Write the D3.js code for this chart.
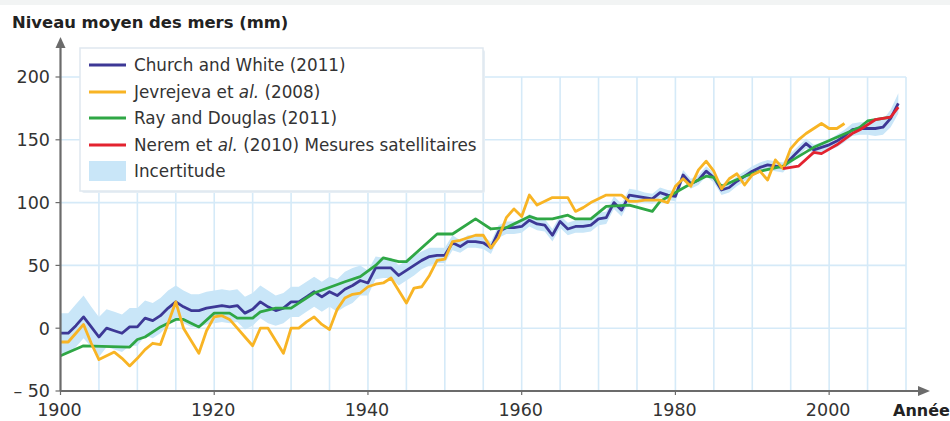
<!DOCTYPE html>
<html><head><meta charset="utf-8">
<script src="https://cdn.jsdelivr.net/npm/d3@7"></script>
<style>
html,body{margin:0;padding:0;background:#fff;}
svg{display:block;font-family:"DejaVu Sans","Open Sans",sans-serif;}
</style></head>
<body><svg id="c" width="950" height="421"></svg>
<script>
// ---- data ----
const churchYears = d3.range(1900, 2010);
const churchValues = [
 -4,-4,2,9,1,-7,0,-2,-4,1,
 1,8,6,10,16,21,17,14,14,16,
 17,18,17,18,12,15,21,17,14,16,
 21,21,25,29,25,29,26,31,34,38,
 36,48,48,48,42,46,50,54,57,58,
 58,68,65,69,69,68,64,77,80,80,
 81,86,83,82,74,85,79,81,81,82,
 87,88,100,94,106,105,104,103,108,106,
 105,122,115,118,125,120,110,112,117,121,
 125,128,130,129,128,135,141,147,142,144,
 146,149,153,158,159,159,159,160,167,179];
const uncertainty = [
 16,16,17,17,16,16,15,15,15,15,
 15,14,14,14,14,13,13,13,13,13,
 13,13,13,13,13,13,13,13,12,12,
 12,12,12,12,12,12,13,14,14,12,
 10,9,8,8,8,8,8,7,7,6,
 6,6,5,5,5,5,5,5,5,5,
 5,5,5,5,5,5,5,5,5,5,
 5,5,5,5,5,5,4,4,4,4,
 4,4,4,4,4,4,4,4,4,4,
 4,4,4,4,4,4,4,4,4,4,
 4,5,5,5,5,5,6,6,7,8];
const jevYears = d3.range(1900, 2003);
const jevValues = [
 -11,-11,-4,3,-12,-25,-22,-19,-24,-30,
 -24,-17,-12,-13,4,21,0,-10,-20,-2,
 9,10,7,0,-7,-14,0,0,-10,-20,
 0,0,5,9,3,-1,15,24,27,28,
 33,35,36,40,30,20,32,33,42,54,
 55,69,70,72,74,74,64,72,88,95,
 89,106,98,101,104,104,104,93,96,100,
 103,106,106,106,101,101,102,102,102,100,
 113,119,113,126,133,125,111,119,123,114,
 122,125,118,134,127,143,150,155,159,163,
 159,159,163];
const rayYears = [1900,1903,1909,1910,1911,1913,1915,1916,1918,1920,1922,1923,1925,1926,1928,1930,1933,1937,1939,1941,1942,1944,1945,1949,1951,1954,1956,1958,1961,1962,1964,1966,1967,1969,1971,1974,1977,1978,1980,1982,1984,1985,1986,1989,1991,1994,1995,1998,2001,2004,2005,2008];
const rayValues = [-22,-14,-15,-9,-7,1,7,7,1,12,12,8,8,13,16,16,28,37,41,50,56,53,53,75,75,87,79,80,89,87,87,90,87,87,97,98,93,101,108,115,121,120,113,121,125,129,133,144,152,160,165,168];
const neremYears = [1994,1996,1998,1999,2001,2003,2004,2006,2008,2009];
const neremValues = [127,129,140,139,146,155,158,166,168,176];

const yTicks = [200,150,100,50,0,-50];
const xTicks = [1900,1920,1940,1960,1980,2000];
const legendLabels = [
 ["Church and White (2011)"],
 ["Jevrejeva et ","al.",". (2008)"],
 ["Ray and Douglas (2011)"],
 ["Nerem et ","al.",". (2010) Mesures satellitaires"],
 ["Incertitude"]];
const colors = {church:"#3d3896", jev:"#f8b424", ray:"#2fa745", nerem:"#e3232f", band:"#c9e6f8"};

// ---- drawing ----
const svg = d3.select("#c");
const x = d3.scaleLinear().domain([1900,2010]).range([60.5,906]);
const y = d3.scaleLinear().domain([-50,200]).range([391,77]);

svg.append("rect").attr("x",0).attr("y",0).attr("width",950).attr("height",5).attr("fill","#f2f4f4");

// grid
const grid = svg.append("g").attr("stroke","#d5eaf8").attr("stroke-width",1.6);
d3.range(1905,2011,5).forEach(yr=>{
  grid.append("line").attr("x1",x(yr)).attr("x2",x(yr)).attr("y1",y(200)).attr("y2",y(-50));
});
[200,150,100,50,0].forEach(v=>{
  grid.append("line").attr("x1",x(1900)).attr("x2",x(2010)).attr("y1",y(v)).attr("y2",y(v));
});

// band
const bandData = churchYears.map((yr,i)=>({yr, lo:churchValues[i]-uncertainty[i], hi:churchValues[i]+uncertainty[i]}));
svg.append("path").datum(bandData)
  .attr("fill",colors.band)
  .attr("d", d3.area().x(d=>x(d.yr)).y0(d=>y(d.lo)).y1(d=>y(d.hi)));

const line = d3.line().x(d=>x(d[0])).y(d=>y(d[1]));
function drawSeries(years, vals, col){
  svg.append("path").datum(years.map((yr,i)=>[yr,vals[i]]))
    .attr("fill","none").attr("stroke",col).attr("stroke-width",2.8)
    .attr("stroke-linejoin","round").attr("d",line);
}
drawSeries(churchYears, churchValues, colors.church);
drawSeries(rayYears, rayValues, colors.ray);
drawSeries(jevYears, jevValues, colors.jev);
drawSeries(neremYears, neremValues, colors.nerem);

// axes
const axCol = "#6b6b6b";
svg.append("line").attr("x1",x(1900)).attr("x2",x(1900)).attr("y1",y(-50)).attr("y2",44)
  .attr("stroke",axCol).attr("stroke-width",2.2);
svg.append("path").attr("d",`M${x(1900)-5},48 L${x(1900)},37 L${x(1900)+5},48 Z`).attr("fill",axCol);
svg.append("line").attr("x1",x(1900)).attr("x2",922).attr("y1",y(-50)).attr("y2",y(-50))
  .attr("stroke",axCol).attr("stroke-width",2.2);
svg.append("path").attr("d",`M918,${y(-50)-5} L930,${y(-50)} L918,${y(-50)+5} Z`).attr("fill",axCol);

const yAxis = svg.append("g");
yTicks.forEach(v=>{
  yAxis.append("line").attr("x1",x(1900)-5).attr("x2",x(1900)).attr("y1",y(v)).attr("y2",y(v)).attr("stroke",axCol).attr("stroke-width",1.2);
  yAxis.append("text").attr("x",50).attr("y",y(v)).attr("dy","0.36em").attr("text-anchor","end")
    .attr("font-size",17.5).attr("fill","#333").text(v<0?"– "+Math.abs(v):v);
});
const xAxis = svg.append("g");
xTicks.forEach(v=>{
  xAxis.append("line").attr("x1",x(v)).attr("x2",x(v)).attr("y1",y(-50)).attr("y2",y(-50)+4).attr("stroke",axCol).attr("stroke-width",1.2);
  xAxis.append("text").attr("x",x(v)-1).attr("y",416).attr("text-anchor","middle")
    .attr("font-size",17.5).attr("fill","#333").text(v);
});

svg.append("text").attr("x",12).attr("y",28).attr("font-size",16.4).attr("font-weight","bold").attr("fill","#222")
  .text("Niveau moyen des mers (mm)");
svg.append("text").attr("x",893).attr("y",416).attr("font-size",16).attr("font-weight","bold").attr("fill","#222")
  .text("Année");

// legend
const lg = svg.append("g");
lg.append("rect").attr("x",82).attr("y",50).attr("width",403).attr("height",143).attr("fill","#e6eef4").attr("rx",2);
lg.append("rect").attr("x",80).attr("y",48).attr("width",403).attr("height",143).attr("fill","#fff")
  .attr("stroke","#dfe8ef").attr("stroke-width",1.5);
const legendColors = [colors.church, colors.jev, colors.ray, colors.nerem];
const rowY = [65,92,118,145,171];
legendLabels.forEach((parts,i)=>{
  if(i<4){
    lg.append("line").attr("x1",89).attr("x2",126).attr("y1",rowY[i]).attr("y2",rowY[i])
      .attr("stroke",legendColors[i]).attr("stroke-width",2.8);
  } else {
    lg.append("rect").attr("x",89).attr("y",rowY[i]-10).attr("width",37).attr("height",20).attr("fill",colors.band);
  }
  const t = lg.append("text").attr("x",134).attr("y",rowY[i]).attr("dy","0.36em")
    .attr("font-size",16.8).attr("fill","#333");
  if(parts.length===1){ t.text(parts[0]); }
  else {
    t.append("tspan").text(parts[0]);
    t.append("tspan").attr("font-style","italic").text(parts[1]);
    t.append("tspan").text(parts[2].slice(1));
  }
});
</script>
</body></html>
